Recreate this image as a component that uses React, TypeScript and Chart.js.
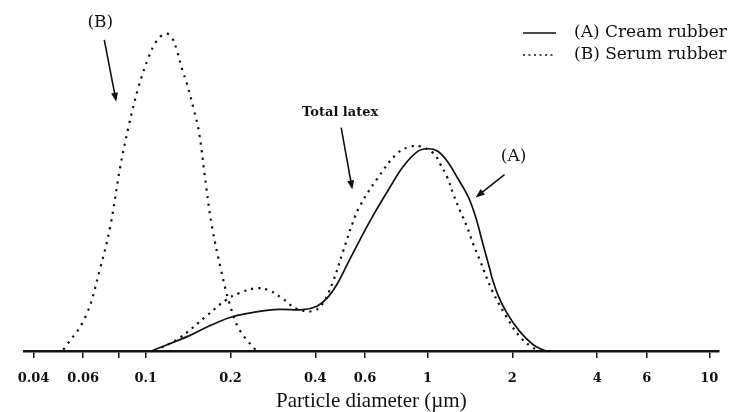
import { useEffect, useRef } from 'react';
import { Chart, registerables } from 'chart.js';

Chart.register(...registerables);

// ---- data ----
const tickValues = [0.04, 0.06, 0.08, 0.1, 0.2, 0.4, 0.6, 1, 2, 4, 6, 10];
const tickLabels = ['0.04', '0.06', '', '0.1', '0.2', '0.4', '0.6', '1', '2', '4', '6', '10'];

const creamDiameter = [0.105, 0.109, 0.143, 0.168, 0.203, 0.247, 0.298, 0.361, 0.405, 0.44, 0.477, 0.518, 0.577, 0.641, 0.726, 0.821, 0.921, 1.0, 1.084, 1.175, 1.274, 1.38, 1.438, 1.497, 1.572, 1.664, 1.7, 1.78, 1.91, 2.12, 2.36, 2.55, 2.65];
const creamValues = [0, 0.6, 4.8, 7.8, 10.7, 12.2, 13.0, 12.9, 14.0, 16.5, 20.8, 26.9, 34.9, 42.3, 50.3, 57.7, 62.3, 63.2, 62.5, 59.3, 54.3, 49.0, 45.3, 40.6, 33.5, 25.6, 22.4, 17.4, 12.0, 6.2, 2.1, 0.5, 0];

const serumDiameter = [0.051, 0.061, 0.069, 0.075, 0.081, 0.087, 0.0944, 0.1025, 0.1086, 0.114, 0.119, 0.124, 0.129, 0.135, 0.14, 0.148, 0.1546, 0.164, 0.172, 0.185, 0.198, 0.215, 0.247];
const serumValues = [0.4, 10.5, 26, 39.3, 57, 70.2, 82.6, 91.9, 96.5, 98.6, 99.2, 97.9, 93.9, 87.7, 83.6, 75.6, 68.4, 51.2, 38.8, 25.4, 15.1, 6.7, 0];

const totalDiameter = [0.108, 0.111, 0.131, 0.164, 0.193, 0.215, 0.247, 0.275, 0.306, 0.343, 0.392, 0.425, 0.462, 0.501, 0.544, 0.577, 0.663, 0.782, 0.871, 0.945, 1.05, 1.11, 1.175, 1.234, 1.305, 1.38, 1.45, 1.535, 1.7, 1.91, 2.12, 2.36, 2.49, 2.55];
const totalValues = [0, 0.6, 3.9, 10.9, 16.0, 18.1, 19.6, 18.9, 16.4, 13.2, 12.5, 14.9, 21.7, 31.0, 40.3, 45.5, 53.8, 61.8, 63.9, 63.9, 61.8, 58.4, 54.3, 49.1, 43.8, 38.9, 33.6, 28.3, 18.7, 10.6, 4.6, 1.1, 0.2, 0];

// annotation labels and arrows (data coordinates)
const noteTexts = ['(B)', 'Total latex', '(A)'];
const noteX = [0.069, 0.49, 2.02];
const noteY = [102.5, 74.5, 60.7];
const noteBold = [false, true, false];
const arrowFromX = [0.0713, 0.494, 1.876];
const arrowFromY = [97.2, 69.8, 55.1];
const arrowToX = [0.0786, 0.541, 1.483];
const arrowToY = [77.9, 50.5, 48.0];

const toPoints = (xs: number[], ys: number[]) => xs.map((v, i) => ({ x: v, y: ys[i] }));

const overlayPlugin = {
  id: 'overlay',
  afterDraw(chart: any) {
    const { ctx, scales } = chart;
    const xs = scales.x;
    const ys = scales.y;
    ctx.save();
    ctx.fillStyle = '#111';
    ctx.strokeStyle = '#111';
    ctx.textAlign = 'center';
    ctx.textBaseline = 'middle';
    noteTexts.forEach((t, i) => {
      ctx.font = noteBold[i] ? 'bold 13px "DejaVu Serif"' : '17px "DejaVu Serif"';
      ctx.fillText(t, xs.getPixelForValue(noteX[i]), ys.getPixelForValue(noteY[i]));
    });
    ctx.lineWidth = 1.6;
    ctx.setLineDash([]);
    arrowFromX.forEach((fx, i) => {
      const x1 = xs.getPixelForValue(fx);
      const y1 = ys.getPixelForValue(arrowFromY[i]);
      const x2 = xs.getPixelForValue(arrowToX[i]);
      const y2 = ys.getPixelForValue(arrowToY[i]);
      const ang = Math.atan2(y2 - y1, x2 - x1);
      const hl = 9;
      const hw = 3.5;
      ctx.beginPath();
      ctx.moveTo(x1, y1);
      ctx.lineTo(x2 - Math.cos(ang) * hl * 0.8, y2 - Math.sin(ang) * hl * 0.8);
      ctx.stroke();
      ctx.beginPath();
      ctx.moveTo(x2, y2);
      ctx.lineTo(x2 - Math.cos(ang) * hl - Math.sin(ang) * hw, y2 - Math.sin(ang) * hl + Math.cos(ang) * hw);
      ctx.lineTo(x2 - Math.cos(ang) * hl + Math.sin(ang) * hw, y2 - Math.sin(ang) * hl - Math.cos(ang) * hw);
      ctx.closePath();
      ctx.fill();
    });
    // legend (first two datasets)
    const legendRows = [33, 55];
    [0, 1].forEach((di, r) => {
      const ds = chart.data.datasets[di];
      const yy = legendRows[r];
      ctx.lineWidth = 1.6;
      ctx.setLineDash(ds.borderDash && ds.borderDash.length ? [2, 3.5] : []);
      ctx.beginPath();
      ctx.moveTo(523, yy);
      ctx.lineTo(556, yy);
      ctx.stroke();
      ctx.setLineDash([]);
      ctx.font = '17px "DejaVu Serif"';
      ctx.textAlign = 'left';
      ctx.fillText(ds.label, 574, yy);
    });
    ctx.restore();
  },
};

export default function App() {
  const ref = useRef<HTMLCanvasElement | null>(null);
  useEffect(() => {
    if (!ref.current) return;
    const common = { borderColor: '#111', pointRadius: 0, tension: 0.4, fill: false };
    const chart = new Chart(ref.current, {
      type: 'line',
      data: {
        datasets: [
          {
            ...common,
            label: '(A) Cream rubber',
            data: toPoints(creamDiameter, creamValues),
            borderWidth: 1.7,
          },
          {
            ...common,
            label: '(B) Serum rubber',
            data: toPoints(serumDiameter, serumValues),
            borderWidth: 2.2,
            borderDash: [2.2, 5.5],
          },
          {
            ...common,
            label: 'Total latex',
            data: toPoints(totalDiameter, totalValues),
            borderWidth: 2.2,
            borderDash: [2.2, 5],
          },
        ],
      },
      options: {
        responsive: false,
        animation: false,
        layout: { padding: { left: 24, right: 11, top: 31, bottom: 0 } },
        plugins: {
          legend: { display: false },
          tooltip: { enabled: false },
        },
        scales: {
          x: {
            type: 'logarithmic',
            min: 0.037,
            max: 10.8,
            afterBuildTicks: (scale: any) => {
              scale.ticks = tickValues.map((v) => ({ value: v }));
            },
            ticks: {
              autoSkip: false,
              maxRotation: 0,
              padding: 14.5,
              color: '#111',
              font: { family: 'DejaVu Serif', size: 13, weight: 'bold', lineHeight: 1 },
              callback: (_v: any, i: number) => tickLabels[i],
            },
            grid: {
              display: true,
              drawOnChartArea: false,
              drawTicks: true,
              tickLength: 7,
              tickColor: '#111',
              lineWidth: 1.5,
            },
            border: { display: true, color: '#111', width: 2.5 },
            title: {
              display: true,
              text: 'Particle diameter (\u00b5m)',
              color: '#111',
              font: { family: 'Liberation Serif', size: 21, lineHeight: 1 },
              padding: { top: -9, bottom: 0 },
            },
          },
          y: {
            display: false,
            min: 0,
            max: 100,
          },
        },
      },
      plugins: [overlayPlugin],
    } as any);
    return () => chart.destroy();
  }, []);
  return (
    <div style={{ position: 'fixed', left: 0, top: 0, width: 733, height: 412, background: '#fff' }}>
      <canvas ref={ref} width={733} height={412} style={{ width: 733, height: 412 }} />
    </div>
  );
}
